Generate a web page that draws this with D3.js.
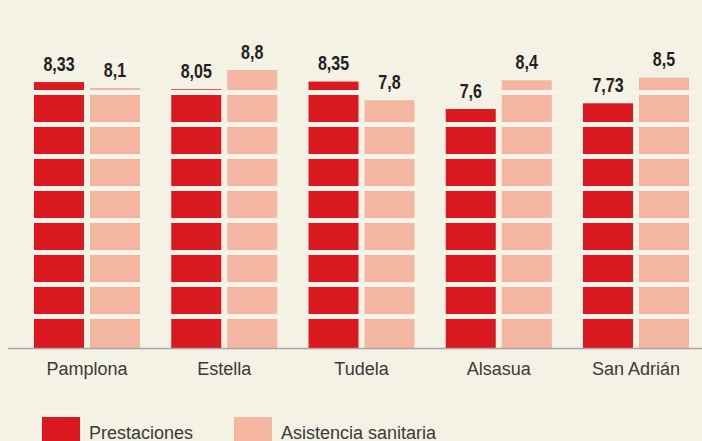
<!DOCTYPE html>
<html><head><meta charset="utf-8">
<script src="https://cdn.jsdelivr.net/npm/d3@7"></script>
<style>
html,body{margin:0;padding:0;background:#f4f1e5;}
svg{display:block;}
</style></head>
<body>
<svg id="c" width="702" height="441"></svg>
<script>
const categories = ["Pamplona", "Estella", "Tudela", "Alsasua", "San Adrián"];
const series = ["Prestaciones", "Asistencia sanitaria"];
const prestaciones = [8.33, 8.05, 8.35, 7.6, 7.73];
const asistencia = [8.1, 8.8, 7.8, 8.4, 8.5];
const valueLabels = [["8,33","8,1"],["8,05","8,8"],["8,35","7,8"],["7,6","8,4"],["7,73","8,5"]];
const colors = ["#da1820", "#f4b6a0"];

const W = 702, H = 441;
const baseY = 348;
const svg = d3.select("#c");
svg.append("rect").attr("width", W).attr("height", H).attr("fill", "#f4f1e5");

const x0 = d3.scaleBand().domain(categories).range([34, 689]).paddingInner(0.2277).paddingOuter(0);
const x1 = d3.scaleBand().domain(series).range([0, x0.bandwidth()]).paddingInner(0.1071).paddingOuter(0);
// the printed chart is not strictly proportional; piecewise scale follows it
const y = d3.scaleLinear().domain([7.6, 8.05, 8.8]).range([109, 89.3, 70]);
const gy = d3.scaleLinear().domain([0, 1]).range([baseY, baseY - 32]);

const data = categories.map((c, i) => ({cat: c, vals: [prestaciones[i], asistencia[i]], labels: valueLabels[i]}));

const g = svg.append("g");
const groups = g.selectAll("g.grp").data(data).join("g")
  .attr("transform", d => `translate(${x0(d.cat)},0)`);
groups.selectAll("rect").data(d => d.vals.map((v, j) => ({s: series[j], v, j})))
  .join("rect")
  .attr("x", d => x1(d.s)).attr("width", x1.bandwidth())
  .attr("y", d => y(d.v)).attr("height", d => baseY - y(d.v))
  .attr("fill", d => colors[d.j]);

// grid lines drawn over bars
const gridTicks = [-2, -1, 1, 2, 3, 4, 5, 6, 7, 8, 9, 10];
svg.append("g").selectAll("line").data(gridTicks).join("line")
  .attr("x1", 0).attr("x2", W)
  .attr("y1", d => gy(d) + 0.5).attr("y2", d => gy(d) + 0.5)
  .attr("stroke", "#f6f2e6").attr("stroke-width", 5);
svg.append("g").selectAll("line").data(gridTicks).join("line")
  .attr("x1", 0).attr("x2", W)
  .attr("y1", d => gy(d) + 0.5).attr("y2", d => gy(d) + 0.5)
  .attr("stroke", "#f8f6ee").attr("stroke-width", 1.5);

// value labels (on top of grid)
const labG = svg.append("g").selectAll("g").data(data).join("g")
  .attr("transform", d => `translate(${x0(d.cat)},0)`);
labG.selectAll("text").data(d => d.vals.map((v, j) => ({s: series[j], v, j, l: d.labels[j]})))
  .join("text")
  .attr("transform", d => `translate(${x1(d.s) + x1.bandwidth() / 2},${y(d.v) - 11.5}) scale(0.8,1)`)
  .attr("text-anchor", "middle")
  .attr("font-family", "'Liberation Sans', Arial, sans-serif")
  .attr("font-weight", "bold").attr("font-size", 20)
  .attr("fill", "#231f20")
  .text(d => d.l);

// axis
const axis = svg.append("g").attr("transform", `translate(0,${baseY})`)
  .call(d3.axisBottom(x0).tickSize(0).tickPadding(14));
axis.select(".domain").remove();
svg.append("line").attr("x1", 8).attr("x2", W).attr("y1", baseY + 0.5).attr("y2", baseY + 0.5)
  .attr("stroke", "#a5a5a5").attr("stroke-width", 1.5);
axis.selectAll("text").attr("font-family", "'Liberation Sans', Arial, sans-serif")
  .attr("font-size", 18).attr("fill", "#3a3a3a");

// legend
const legX = [42, 234];
const leg = svg.append("g");
series.forEach((s, i) => {
  leg.append("rect").attr("x", legX[i]).attr("y", 417).attr("width", 38).attr("height", 30).attr("fill", colors[i]);
  leg.append("text").attr("x", legX[i] + 47).attr("y", 438.5)
    .attr("font-family", "'Liberation Sans', Arial, sans-serif").attr("font-size", 18)
    .attr("fill", "#3a3a3a").text(s);
});
</script>
</body></html>
